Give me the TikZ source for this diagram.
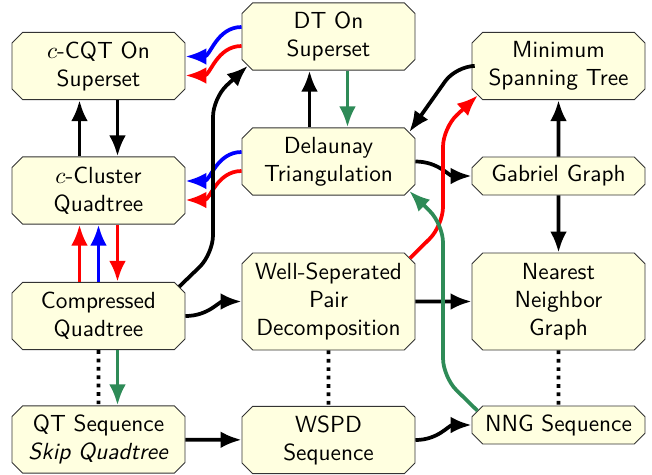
\documentclass[tikz,border=0pt]{standalone}
\usepackage{tikz}
\usetikzlibrary{shapes.misc, arrows.meta, calc}
\usepackage{xcolor}

\definecolor{boxfill}{RGB}{255,255,224}
\definecolor{seagreen}{RGB}{46,139,87}

\tikzset{
  algo/.style={chamfered rectangle, chamfered rectangle xsep=2.3pt, chamfered rectangle ysep=2.3pt,
    draw=black!80, fill=boxfill, align=center, minimum width=74.2pt, inner sep=1pt, font=\sffamily},
  oneline/.style={algo, minimum height=16.3pt},
  twoline/.style={algo, minimum height=28.9pt},
  threeline/.style={algo, minimum height=41.6pt},
  link/.style={ultra thick, -{Latex[length=9pt,width=7.2pt]}},
}

\begin{document}
\begin{tikzpicture}[x=0.429pt, y=-0.429pt]
    \useasboundingbox (0,0) rectangle (652,474);

    % Structures
    \node[twoline] (ccqt) at (98.5,66) {$c$-CQT On\\Superset};
    \node[twoline] (dtsup) at (328.5,36.5) {DT On\\Superset};
    \node[twoline] (mst) at (558.5,66) {Minimum\\Spanning Tree};
    \node[twoline] (ccluster) at (98.5,190.5) {$c$-Cluster\\Quadtree};
    \node[twoline] (delaunay) at (328.5,161.5) {Delaunay\\Triangulation};
    \node[oneline] (gabriel) at (558.5,176) {Gabriel Graph};
    \node[twoline] (cq) at (98.5,316) {Compressed\\Quadtree};
    \node[threeline] (wspd) at (328.5,301.5) {Well-Seperated\\Pair\\Decomposition};
    \node[threeline] (nng) at (558.5,301.5) {Nearest\\Neighbor\\Graph};
    \node[twoline] (qtseq) at (98.5,439.5) {QT Sequence\\\textit{Skip Quadtree}};
    \node[twoline] (wspdseq) at (328.5,440) {WSPD\\Sequence};
    \node[oneline] (nngseq) at (558.5,425) {NNG Sequence};

    % Superset links
    \draw[link, blue] ($(dtsup.west)+(0,-9.5)$) to[out=180,in=0] ($(ccqt.east)+(0,-9.5)$);
    \draw[link, red] ($(dtsup.west)+(0,9.5)$) to[out=180,in=0] ($(ccqt.east)+(0,9.5)$);
    \draw[link, blue] ($(delaunay.west)+(0,-9.5)$) to[out=180,in=0] ($(ccluster.east)+(0,-9.5)$);
    \draw[link, red] ($(delaunay.west)+(0,9.5)$) to[out=180,in=0] ($(ccluster.east)+(0,9.5)$);
    \draw[link] ($(ccluster.north)+(-19,0)$) -- ($(ccqt.south)+(-19,0)$);
    \draw[link] ($(ccqt.south)+(19,0)$) -- ($(ccluster.north)+(19,0)$);
    \draw[link] ($(delaunay.north)+(-19,0)$) -- ($(dtsup.south)+(-19,0)$);
    \draw[link, seagreen] ($(dtsup.south)+(19,0)$) -- ($(delaunay.north)+(19,0)$);

    % Quadtree links
    \draw[link, red] ($(cq.north)+(-19,0)$) -- ($(ccluster.south)+(-19,0)$);
    \draw[link, blue] (cq.north) -- (ccluster.south);
    \draw[link, red] ($(ccluster.south)+(19,0)$) -- ($(cq.north)+(19,0)$);
    \draw[link, rounded corners=8pt] (cq.20) -- (213,254) -- (213,98) -- (dtsup.200);
    \draw[link] (cq.east) to[out=0,in=180] (wspd.west);
    \draw[link, seagreen] ($(cq.south)+(19,0)$) -- ($(qtseq.north)+(19,0)$);

    % Graph links
    \draw[link] (delaunay.east) to[out=0,in=180] (gabriel.west);
    \draw[link, rounded corners=8pt] (mst.west) -- (456,66) -- (delaunay.20);
    \draw[link] (gabriel) -- (mst);
    \draw[link] (gabriel) -- (nng);
    \draw[link] (wspd) -- (nng);
    \draw[link, red, rounded corners=8pt] (wspd.28) -- (443,225.5) -- (443,128) -- (mst.200);
    \draw[link, seagreen, rounded corners=8pt] (nngseq.170) -- (443,377) -- (443,224) -- (delaunay.-20);

    % Sequences
    \foreach \a/\b in {cq/qtseq, wspd/wspdseq, nng/nngseq} {
        \draw[ultra thick, dotted] (\a) -- (\b);
    }
    \draw[link] (qtseq) -- (wspdseq);
    \draw[link] (wspdseq.east) to[out=0,in=180] (nngseq.west);

\end{tikzpicture}
\end{document}
